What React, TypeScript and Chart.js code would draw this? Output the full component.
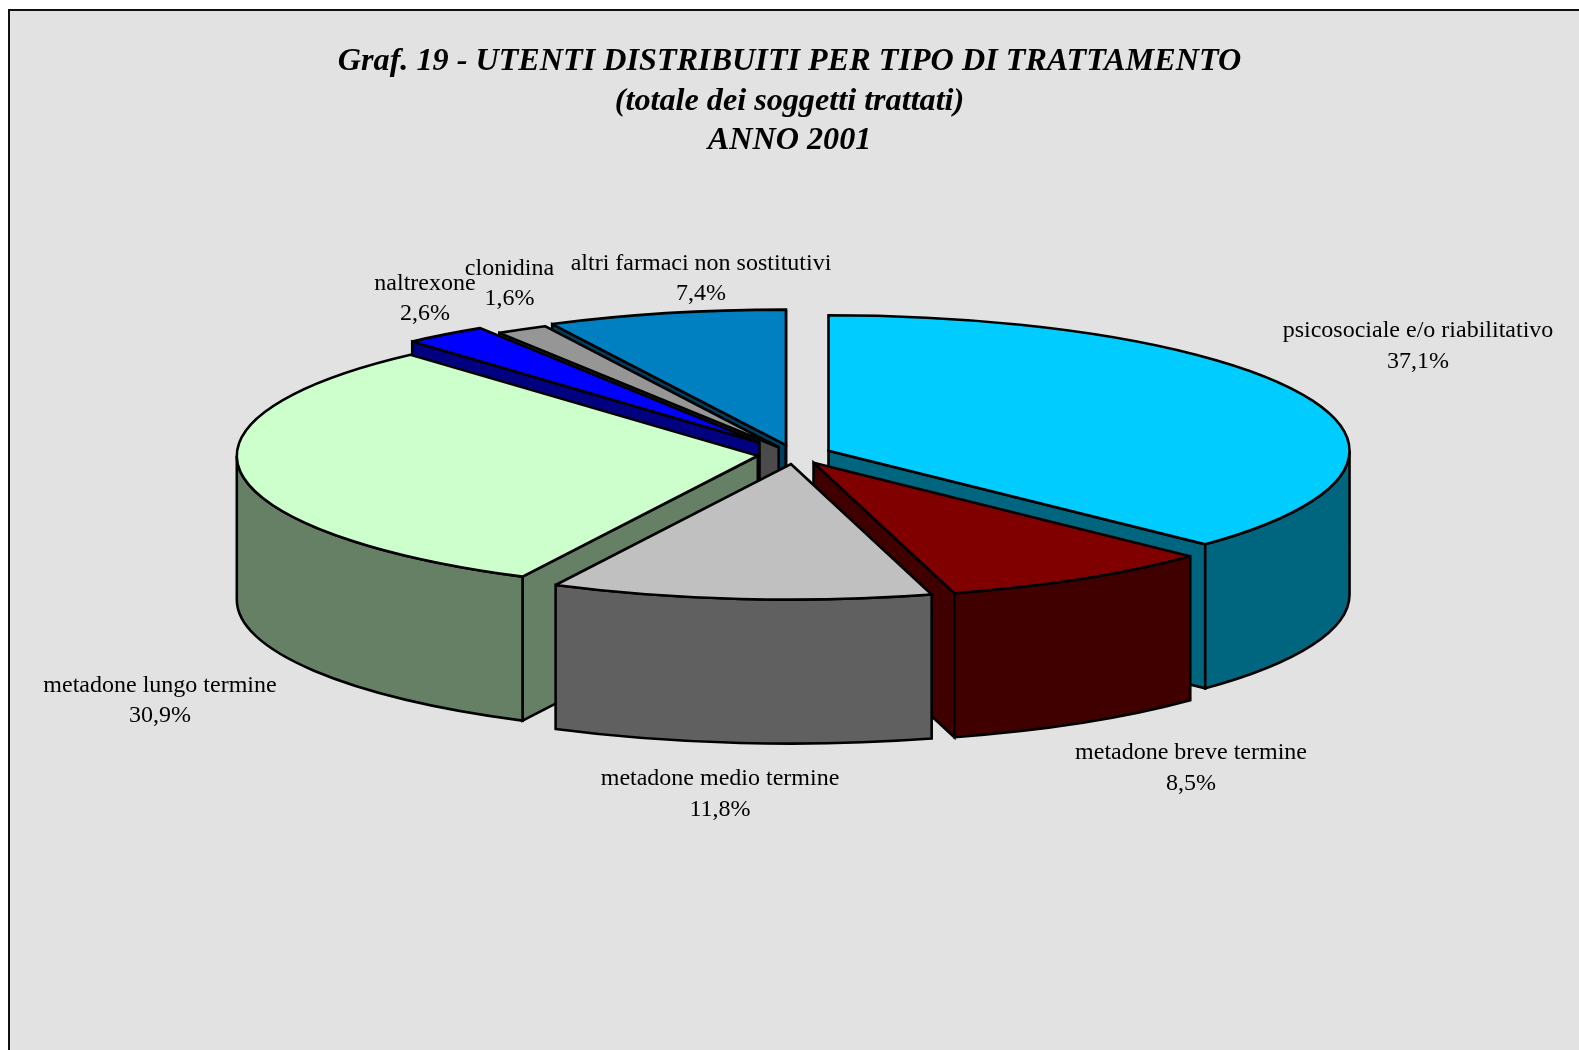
import React, { useEffect, useRef } from "react";
import { Chart, registerables } from "chart.js";

Chart.register(...registerables);

const categories = [
  "psicosociale e/o riabilitativo",
  "metadone breve termine",
  "metadone medio termine",
  "metadone lungo termine",
  "naltrexone",
  "clonidina",
  "altri farmaci non sostitutivi",
];
const shares = [37.1, 8.5, 11.8, 30.9, 2.6, 1.6, 7.4];
const topColors = ["#00CCFF", "#800000", "#C0C0C0", "#CCFFCC", "#0000FF", "#969696", "#0080C0"];
const titleLines = [
  "Graf. 19 - UTENTI DISTRIBUITI PER TIPO DI TRATTAMENTO",
  "(totale dei soggetti trattati)",
  "ANNO 2001",
];

// Layout of the projected pie and of the label anchors (styling, not data)
const RX = 521;
const RY = 135.5;
const DEPTH = 144;
const explode = [37, 37, 37, 37, 58, 32, 37];
const CENTER_SHIFT_X = 5;
const CENTER_Y = 454.5;
const SERIF = "'Liberation Serif', 'Times New Roman', serif";
const labelAnchors = [
  [1418, 331, 361.5],
  [1191, 753, 783.5],
  [720, 779, 809.5],
  [160, 686, 716],
  [425, 284, 314],
  [509.5, 269, 299],
  [701, 264, 294],
];

function darken(hex: string) {
  const n = parseInt(hex.slice(1), 16);
  const r = (n >> 16) & 255;
  const g = (n >> 8) & 255;
  const b = n & 255;
  return `rgb(${Math.round(r / 2)},${Math.round(g / 2)},${Math.round(b / 2)})`;
}

const paintPlugin = {
  id: "tiltedPie",
  beforeDraw(chart: any) {
    const { ctx, width, height } = chart;
    ctx.save();
    ctx.fillStyle = "#E2E2E2";
    ctx.fillRect(9, 10, width, height);
    ctx.strokeStyle = "#111";
    ctx.lineWidth = 2;
    ctx.beginPath();
    ctx.moveTo(9, height);
    ctx.lineTo(9, 10);
    ctx.lineTo(width, 10);
    ctx.stroke();
    ctx.restore();
  },
  beforeDatasetDraw(chart: any) {
    const { ctx } = chart;
    const arcs: any[] = chart.getDatasetMeta(0).data;
    const order = arcs
      .map((_, i) => i)
      .sort(
        (a, b) =>
          Math.sin((arcs[a].startAngle + arcs[a].endAngle) / 2) -
          Math.sin((arcs[b].startAngle + arcs[b].endAngle) / 2)
      );
    ctx.save();
    ctx.lineWidth = 2.6;
    ctx.lineJoin = "miter";
    ctx.miterLimit = 3;
    ctx.strokeStyle = "#000";
    for (const i of order) {
      const el = arcs[i];
      const s = el.startAngle;
      const e = el.endAngle;
      const mid = (s + e) / 2;
      const cx = el.x + CENTER_SHIFT_X + explode[i] * Math.cos(mid);
      const cy = CENTER_Y + explode[i] * (RY / RX) * Math.sin(mid);
      const top = el.options.backgroundColor;
      const side = darken(top);
      const rim = (a: number): [number, number] => [cx + RX * Math.cos(a), cy + RY * Math.sin(a)];
      const face = (a: number) => {
        const [x, y] = rim(a);
        ctx.beginPath();
        ctx.moveTo(cx, cy);
        ctx.lineTo(x, y);
        ctx.lineTo(x, y + DEPTH);
        ctx.lineTo(cx, cy + DEPTH);
        ctx.closePath();
        ctx.fillStyle = side;
        ctx.fill();
        ctx.stroke();
      };
      if (-Math.cos(s) > 0) face(s);
      if (Math.cos(e) > 0) face(e);
      const a0 = Math.max(s, 0);
      const a1 = Math.min(e, Math.PI);
      if (a1 > a0) {
        ctx.beginPath();
        ctx.ellipse(cx, cy, RX, RY, 0, a0, a1);
        ctx.ellipse(cx, cy + DEPTH, RX, RY, 0, a1, a0, true);
        ctx.closePath();
        ctx.fillStyle = side;
        ctx.fill();
        ctx.stroke();
      }
      ctx.beginPath();
      ctx.moveTo(cx, cy);
      ctx.ellipse(cx, cy, RX, RY, 0, s, e);
      ctx.closePath();
      ctx.fillStyle = top;
      ctx.fill();
      ctx.stroke();
    }
    ctx.restore();
    return false;
  },
  afterDraw(chart: any) {
    const { ctx } = chart;
    ctx.save();
    ctx.fillStyle = "#000";
    ctx.font = `24px ${SERIF}`;
    ctx.textAlign = "center";
    ctx.textBaseline = "middle";
    categories.forEach((name, i) => {
      const [x, y1, y2] = labelAnchors[i];
      ctx.fillText(name, x, y1);
      ctx.fillText(`${shares[i].toFixed(1).replace(".", ",")}%`, x, y2);
    });
    ctx.restore();
  },
};

export default function App() {
  const ref = useRef<HTMLCanvasElement>(null);
  useEffect(() => {
    document.body.style.background = "#fff";
    const chart = new Chart(ref.current as HTMLCanvasElement, {
      type: "pie",
      data: {
        labels: categories,
        datasets: [{ data: shares, backgroundColor: topColors, borderWidth: 0 }],
      },
      options: {
        responsive: false,
        animation: false,
        devicePixelRatio: 1,
        plugins: {
          legend: { display: false },
          tooltip: { enabled: false },
          title: {
            display: true,
            text: titleLines,
            color: "#000",
            align: "center",
            fullSize: true,
            font: { family: SERIF, size: 32.2, weight: "bold", style: "italic", lineHeight: 1.23 },
            padding: { top: 42, bottom: 0 },
          },
        },
      },
      plugins: [paintPlugin],
    } as any);
    return () => chart.destroy();
  }, []);
  return (
    <canvas
      ref={ref}
      width={1579}
      height={1050}
      style={{ position: "fixed", left: 0, top: 0, display: "block", width: 1579, height: 1050 }}
    />
  );
}
